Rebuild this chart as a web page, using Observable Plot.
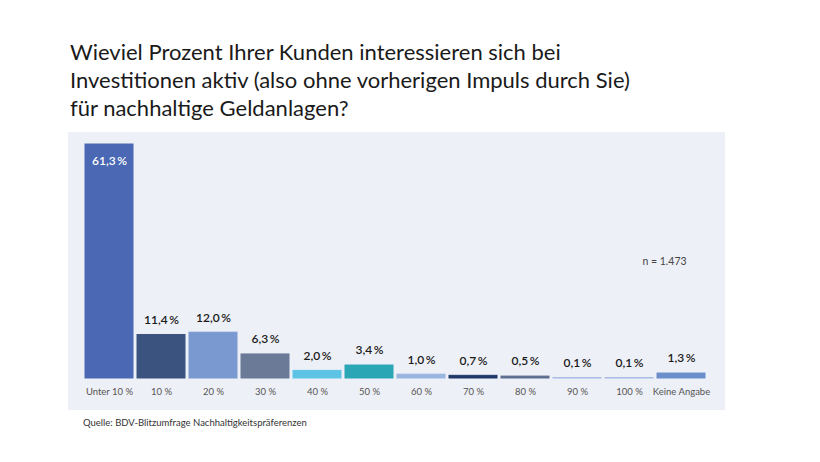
<!DOCTYPE html>
<html>
<head>
<meta charset="utf-8">
<script src="https://cdn.jsdelivr.net/npm/d3@7"></script>
<script src="https://cdn.jsdelivr.net/npm/@observablehq/plot@0.6"></script>
<style>
  html, body { margin: 0; padding: 0; background: #ffffff; }
  body { width: 820px; height: 462px; position: relative; overflow: hidden; font-family: Lato, "Open Sans", sans-serif; }
  #title { position: absolute; left: 70px; top: 38px; font-size: 22px; line-height: 28px; color: #1a1a1a; letter-spacing: 0; }
  #chart { position: absolute; left: 68px; top: 132px; }
  #source { position: absolute; left: 83px; top: 417px; font-size: 9.5px; color: #333; }
</style>
</head>
<body>
<div id="title">Wieviel Prozent Ihrer Kunden interessieren sich bei<br>Investitionen aktiv (also ohne vorherigen Impuls durch Sie)<br>für nachhaltige Geldanlagen?</div>
<div id="chart"></div>
<div id="source">Quelle: BDV-Blitzumfrage Nachhaltigkeitspräferenzen</div>
<script>
const categories = ["Unter 10 %", "10 %", "20 %", "30 %", "40 %", "50 %", "60 %", "70 %", "80 %", "90 %", "100 %", "Keine Angabe"];
const values = [61.3, 11.4, 12.0, 6.3, 2.0, 3.4, 1.0, 0.7, 0.5, 0.1, 0.1, 1.3];
const colors = ["#4a68b3", "#3a537f", "#7a99d0", "#6b7b97", "#5ec4e6", "#2aa6b4", "#9ab4e0", "#1f3869", "#5d6f8f", "#a3bae2", "#a3bae2", "#6a8dcb"];
const sampleNote = "n = 1.473";

const data = categories.map((c, i) => ({cat: c, value: values[i], color: colors[i], label: values[i].toFixed(1).replace(".", ",") + "\u2009%"}));
const fmtInside = data.filter((d, i) => i === 0);
const fmtAbove = data.filter((d, i) => i !== 0);

const chart = Plot.plot({
  width: 657,
  height: 278,
  marginLeft: 15,
  marginRight: 19,
  marginTop: 12,
  marginBottom: 32,
  style: { background: "#eef0f7", fontFamily: "Lato, 'Open Sans', sans-serif" },
  x: { domain: categories, paddingInner: 0.08, paddingOuter: 0, label: null, tickSize: 0 },
  y: { domain: [0, 61.3], axis: null },
  marks: [
    Plot.barY(data, { x: "cat", y: "value", fill: "color", stroke: "color", strokeWidth: 1 }),
    Plot.text(fmtAbove, { x: "cat", y: "value", text: "label", dy: -15, fontSize: 12, fontWeight: 600, fill: "#1a1a1a" }),
    Plot.text(fmtInside, { x: "cat", y: "value", text: "label", dy: 17, fontSize: 12, fontWeight: 600, fill: "#ffffff" }),
    Plot.text([sampleNote], { text: d => d, frameAnchor: "right", dx: -42, dy: 0, fontSize: 10.5, fill: "#444", textAnchor: "middle" }),
    Plot.axisX({ tickSize: 0, tickPadding: 10, fontSize: 9.5, fill: "#555", label: null })
  ]
});
document.getElementById("chart").appendChild(chart);
</script>
</body>
</html>
